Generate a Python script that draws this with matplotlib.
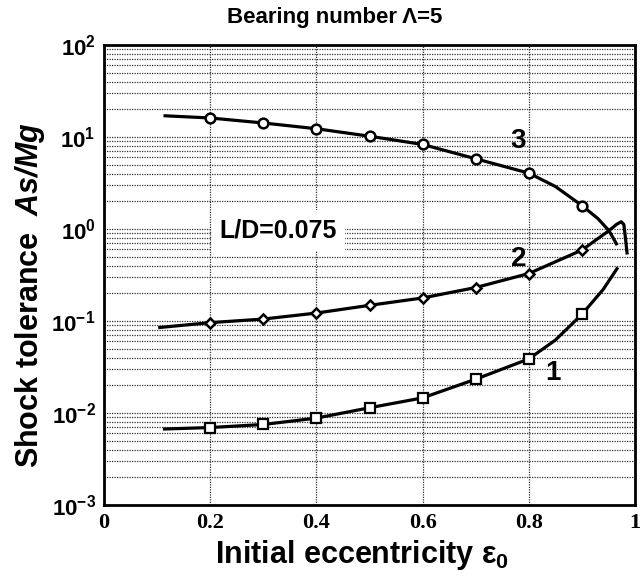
import matplotlib
matplotlib.use('Agg')
import matplotlib.pyplot as plt
from matplotlib.ticker import LogLocator, FuncFormatter, NullFormatter
import numpy as np

plt.rcParams['font.family'] = ['Liberation Sans', 'DejaVu Sans']
plt.rcParams['mathtext.fontset'] = 'custom'
plt.rcParams['mathtext.rm'] = 'Liberation Sans:bold'
plt.rcParams['mathtext.bf'] = 'Liberation Sans:bold'
plt.rcParams['mathtext.it'] = 'Liberation Sans:italic:bold'
plt.rcParams['mathtext.bfit'] = 'Liberation Sans:italic:bold'

# curve 3 (circles)
c3_line_x = [0.115, 0.2, 0.3, 0.4, 0.5, 0.6, 0.7, 0.8, 0.85, 0.9, 0.93, 0.951, 0.965]
c3_line_y = [17.0, 16.1, 14.2, 12.3, 10.2, 8.3, 5.8, 4.05, 2.9, 1.8, 1.3, 0.96, 0.69]
c3_mark_x = [0.2, 0.3, 0.4, 0.5, 0.6, 0.7, 0.8, 0.9]
c3_mark_y = [16.1, 14.2, 12.3, 10.2, 8.3, 5.8, 4.05, 1.8]

# curve 2 (diamonds)
c2_line_x = [0.105, 0.2, 0.3, 0.4, 0.5, 0.6, 0.7, 0.8, 0.9, 0.951, 0.965, 0.974, 0.979, 0.982, 0.985]
c2_line_y = [0.085, 0.096, 0.105, 0.122, 0.148, 0.178, 0.231, 0.328, 0.59, 0.96, 1.12, 1.2, 1.12, 0.8, 0.55]
c2_mark_x = [0.2, 0.3, 0.4, 0.5, 0.6, 0.7, 0.8, 0.9]
c2_mark_y = [0.096, 0.105, 0.122, 0.148, 0.178, 0.231, 0.328, 0.59]

# curve 1 (squares)
c1_line_x = [0.114, 0.2, 0.3, 0.4, 0.5, 0.6, 0.7, 0.8, 0.85, 0.9, 0.94, 0.966]
c1_line_y = [0.0067, 0.00695, 0.0075, 0.0088, 0.0114, 0.0146, 0.0233, 0.0387, 0.062, 0.118, 0.22, 0.37]
c1_mark_x = [0.2, 0.3, 0.4, 0.5, 0.6, 0.7, 0.8, 0.9]
c1_mark_y = [0.00695, 0.0075, 0.0088, 0.0114, 0.0146, 0.0233, 0.0387, 0.118]

x_ticks = [0, 0.2, 0.4, 0.6, 0.8, 1.0]
x_ticklabels = ['0', '0.2', '0.4', '0.6', '0.8', '1']

fig = plt.figure(figsize=(6.41, 5.83), dpi=100)
ax = fig.add_axes([104/641, 1 - 505/583, 531/641, 460/583])
ax.set_yscale('log')
ax.set_xlim(0, 1)
ax.set_ylim(1e-3, 1e2)

grid_kw = dict(color='0.2', linestyle=(0, (1, 1)), linewidth=0.9)
ax.yaxis.set_major_locator(LogLocator(base=10, numticks=10))
ax.yaxis.set_minor_locator(LogLocator(base=10, subs=np.arange(2, 10), numticks=20))
ax.yaxis.set_minor_formatter(NullFormatter())
ax.yaxis.set_major_formatter(FuncFormatter(lambda v, p: r'$\mathbf{10^{%d}}$' % round(np.log10(v))))
ax.grid(True, which='major', axis='both', **grid_kw)
ax.grid(True, which='minor', axis='y', **grid_kw)
ax.set_axisbelow(True)

ax.set_xticks(x_ticks)
ax.set_xticklabels(x_ticklabels, fontfamily='Liberation Serif', fontweight='bold', fontsize=16)
ax.tick_params(axis='both', which='both', direction='in', length=0)
ax.tick_params(axis='y', labelsize=16, pad=6)
ax.tick_params(axis='x', pad=6)

for sp in ax.spines.values():
    sp.set_linewidth(2)

lw = 2.3
ax.plot(c3_line_x, c3_line_y, '-', color='black', lw=lw)
ax.plot(c3_mark_x, c3_mark_y, 'o', ms=7, mfc='white', mec='black', mew=1.8, ls='none')
ax.plot(c2_line_x, c2_line_y, '-', color='black', lw=lw)
ax.plot(c2_mark_x, c2_mark_y, 'D', ms=5.5, mfc='white', mec='black', mew=1.8, ls='none')
ax.plot(c1_line_x, c1_line_y, '-', color='black', lw=lw)
ax.plot(c1_mark_x, c1_mark_y, 's', ms=7, mfc='white', mec='black', mew=1.6, ls='none')

ax.text(0.78, 9.0, '3', fontsize=20, fontweight='bold', ha='center', va='center')
ax.text(0.781, 0.47, '2', fontsize=20, fontweight='bold', ha='center', va='center')
ax.text(0.845, 0.027, '1', fontsize=20, fontweight='bold', ha='center', va='center')
ax.text(0.218, 0.96, 'L/D=0.075', fontsize=18, fontweight='bold', ha='left', va='center',
        bbox=dict(facecolor='white', edgecolor='none', pad=6))

fig.text(335/641, 1 - 17/583, 'Bearing number \u039b=5', fontsize=16, fontweight='bold',
         ha='center', va='center')
fig.text(362/641, 1 - 555/583, 'Initial eccentricity \u03b5$_{\\mathbf{0}}$', fontsize=22,
         fontweight='bold', ha='center', va='center')
fig.text(30/641, 1 - 295/583, 'Shock tolerance  $\\mathbfit{As/Mg}$', fontsize=22,
         fontweight='bold', ha='center', va='center', rotation=90)

fig.savefig('out.png', dpi=100)
